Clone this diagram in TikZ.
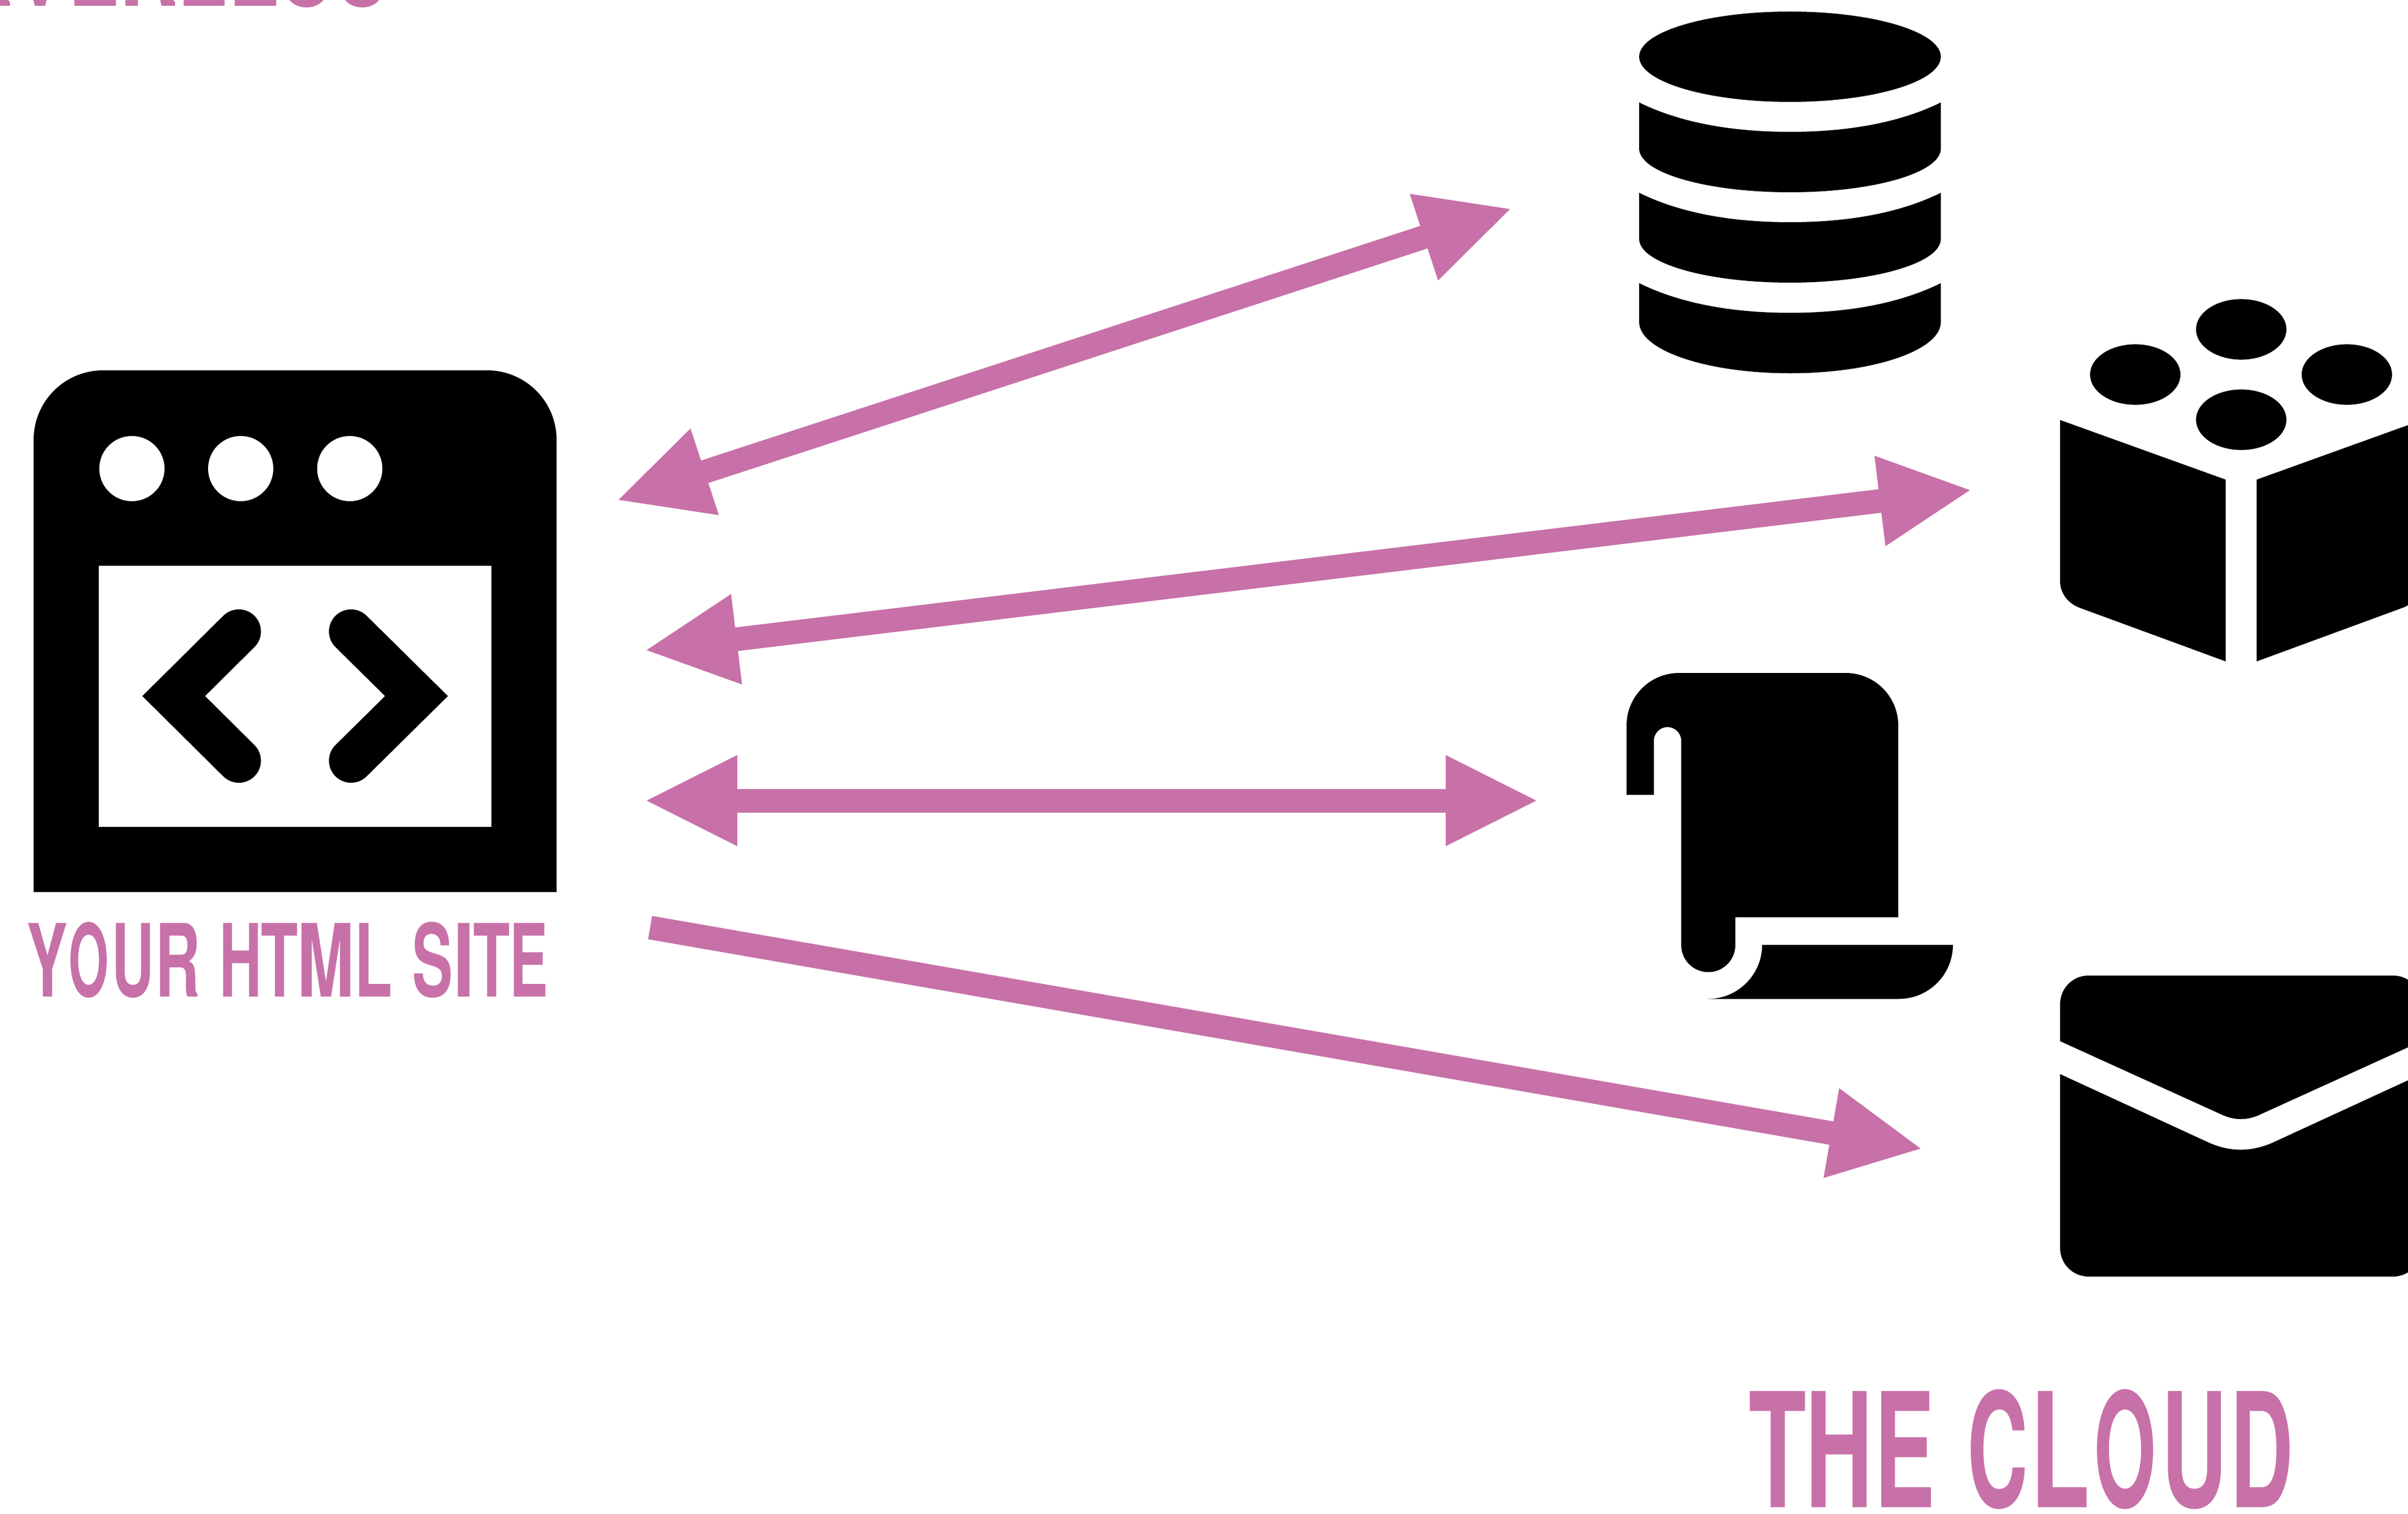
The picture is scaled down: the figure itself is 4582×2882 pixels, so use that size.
\documentclass[tikz,border=0pt]{standalone}
\usepackage{graphicx}
\usepackage{fontspec}
\usetikzlibrary{arrows.meta}
\newfontfamily\lblfont{TeX Gyre Heros}
\definecolor{orchid}{HTML}{C771A8}
\newcommand\gl[5]{\rlap{\kern\fpeval{(#4-(#5-#4)*#2/(#3-#2))*0.28453}pt\scalebox{\fpeval{(#5-#4)*0.28453/((#3-#2)/100)}}[\fpeval{\curH*0.28453/7.29}]{#1}}}
\tikzset{
  icon/.style={fill=black,draw=none},
  hole/.style={fill=white,draw=none},
  chevron/.style={draw=black,line width=0.84cm,line cap=round,line join=miter,miter limit=10},
  tiphead/.tip={Triangle[length=1.77cm,width=1.59cm]},
  link/.style={draw=orchid,line width=0.45cm},
  label/.style={inner sep=0pt,outer sep=0pt,anchor=base west,text=orchid,font=\lblfont\bfseries\fontsize{10}{12}\selectfont}
}
\begin{document}
\begin{tikzpicture}[x=0.01cm,y=-0.01cm]
\useasboundingbox (0,0) rectangle (4582,2882);
\clip (0,0) rectangle (4582,2882);
\fill[white] (0,0) rectangle (4582,2882);

% browser
\path[icon] (64,1698) -- (64,837) arc[start angle=180,end angle=270,radius=132] -- (927,705) arc[start angle=270,end angle=360,radius=132] -- (1059,1698) -- cycle;
\path[hole] (251,892) circle[radius=62];
\path[hole] (458,892) circle[radius=62];
\path[hole] (665.5,892) circle[radius=62];
\path[hole] (188,1077) rectangle (935,1574);
\draw[chevron] (454.5,1202) -- (330.5,1325) -- (454.5,1448);
\draw[chevron] (668,1202) -- (792.5,1325) -- (668,1448);

% database
\path[icon] (3406,108) ellipse[x radius=287,y radius=86];
\path[icon] (3119,195) .. controls (3200,235) and (3300,251) .. (3406,251) .. controls (3512,251) and (3612,235) .. (3693,195) -- (3693,283) .. controls (3693,329) and (3564.5,366) .. (3406,366) .. controls (3247.5,366) and (3119,329) .. (3119,283) -- cycle;
\path[icon] (3119,367) .. controls (3200,407) and (3300,423) .. (3406,423) .. controls (3512,423) and (3612,407) .. (3693,367) -- (3693,455) .. controls (3693,501) and (3564.5,538) .. (3406,538) .. controls (3247.5,538) and (3119,501) .. (3119,455) -- cycle;
\path[icon] (3119,539) .. controls (3200,579) and (3300,595.5) .. (3406,595.5) .. controls (3512,595.5) and (3612,579) .. (3693,539) -- (3693,613) .. controls (3693,667) and (3564.5,710.5) .. (3406,710.5) .. controls (3247.5,710.5) and (3119,667) .. (3119,613) -- cycle;

% blocks
\path[icon] (4264.6,627) ellipse[x radius=86,y radius=57.6];
\path[icon] (4264.6,799) ellipse[x radius=86,y radius=57.6];
\path[icon] (4063,713) ellipse[x radius=86,y radius=57.6];
\path[icon] (4465.6,713) ellipse[x radius=86,y radius=57.6];
\path[icon] (3920,799.5) -- (4235,913) -- (4235,1259) -- (3960,1158) .. controls (3936,1150) and (3920,1130) .. (3920,1107) -- cycle;
\path[icon] (4609,799.5) -- (4294,913) -- (4294,1259) -- (4569,1158) .. controls (4593,1150) and (4609,1130) .. (4609,1107) -- cycle;

% scroll
\path[icon] (3095,1513) -- (3095,1381) arc[start angle=180,end angle=270,radius=100] -- (3512,1281) arc[start angle=270,end angle=360,radius=100] -- (3612,1746) -- (3302,1746) -- (3302,1799) arc[start angle=0,end angle=180,radius=51.5] -- (3199,1410) arc[start angle=360,end angle=180,radius=26] -- (3147,1513) -- cycle;
\path[icon] (3354,1798.5) -- (3716,1798.5) arc[start angle=0,end angle=90,radius=103] -- (3250,1901.5) arc[start angle=90,end angle=0,radius=103] -- cycle;

% mail
\path[icon] (3920,1982) -- (3920,1911) arc[start angle=180,end angle=270,radius=54] -- (4553.6,1857) arc[start angle=270,end angle=360,radius=54] -- (4607.6,1982) -- (4299.6,2122) .. controls (4276,2133) and (4252,2133) .. (4228,2122) -- cycle;
\path[icon] (3920,2044.6) -- (4203,2175) .. controls (4243,2193) and (4284,2193) .. (4324.6,2175) -- (4607.6,2044.6) -- (4607.6,2376) arc[start angle=0,end angle=90,radius=54] -- (3974,2430) arc[start angle=90,end angle=180,radius=54] -- cycle;

% connector ends
\coordinate (dbL) at (1172.5,953);
\coordinate (dbR) at (2877.8,396.5);
\coordinate (blL) at (1225.7,1238.1);
\coordinate (blR) at (3753,932.4);
\coordinate (scL) at (1225.7,1524);
\coordinate (scR) at (2928,1524);
\coordinate (mlL) at (1237,1765.7);
\coordinate (mlR) at (3659.2,2187.2);

\draw[link,{tiphead}-{tiphead}] (dbL) -- (dbR);
\draw[link,{tiphead}-{tiphead}] (blL) -- (blR);
\draw[link,{tiphead}-{tiphead}] (scL) -- (scR);
\draw[link,-{tiphead}] (mlL) -- (mlR);

% labels
\def\curH{184}
\node[label] (top) at (0,11.5) {\gl{S}{39}{629}{-280}{-190}\gl{E}{76}{621}{-175}{-96}\gl{R}{76}{677}{-77}{18}\gl{V}{19}{648}{25}{125}\gl{E}{76}{621}{140}{219}\gl{R}{76}{677}{237}{332}\gl{L}{76}{583}{347}{426}\gl{E}{76}{621}{444}{523}\gl{S}{39}{629}{536}{626}\gl{S}{39}{629}{642}{732}};
\def\curH{140}
\node[label] (site) at (0,1897) {\gl{Y}{14}{653}{50}{125}\gl{O}{44}{734}{133}{201}\gl{U}{69}{654}{218}{283.5}\gl{R}{76}{677}{302.5}{374}\gl{H}{71}{651}{423}{488}\gl{T}{14}{598}{496}{563.5}\gl{M}{69}{765}{572}{663}\gl{L}{76}{583}{681}{741}\gl{S}{39}{629}{787}{855.5}\gl{I}{64}{214}{870}{892}\gl{T}{14}{598}{900}{967}\gl{E}{76}{621}{976}{1036}};
\def\curH{221}
\node[label] (cloud) at (0,2869) {\gl{T}{14}{598}{3326}{3431}\gl{H}{71}{651}{3444}{3547}\gl{E}{76}{621}{3576}{3670.5}\gl{C}{44}{684}{3746.5}{3849}\gl{L}{76}{583}{3874}{3968}\gl{O}{44}{734}{3987}{4092}\gl{U}{69}{654}{4120}{4222}\gl{D}{76}{685}{4252}{4353.6}};
\end{tikzpicture}
\end{document}
